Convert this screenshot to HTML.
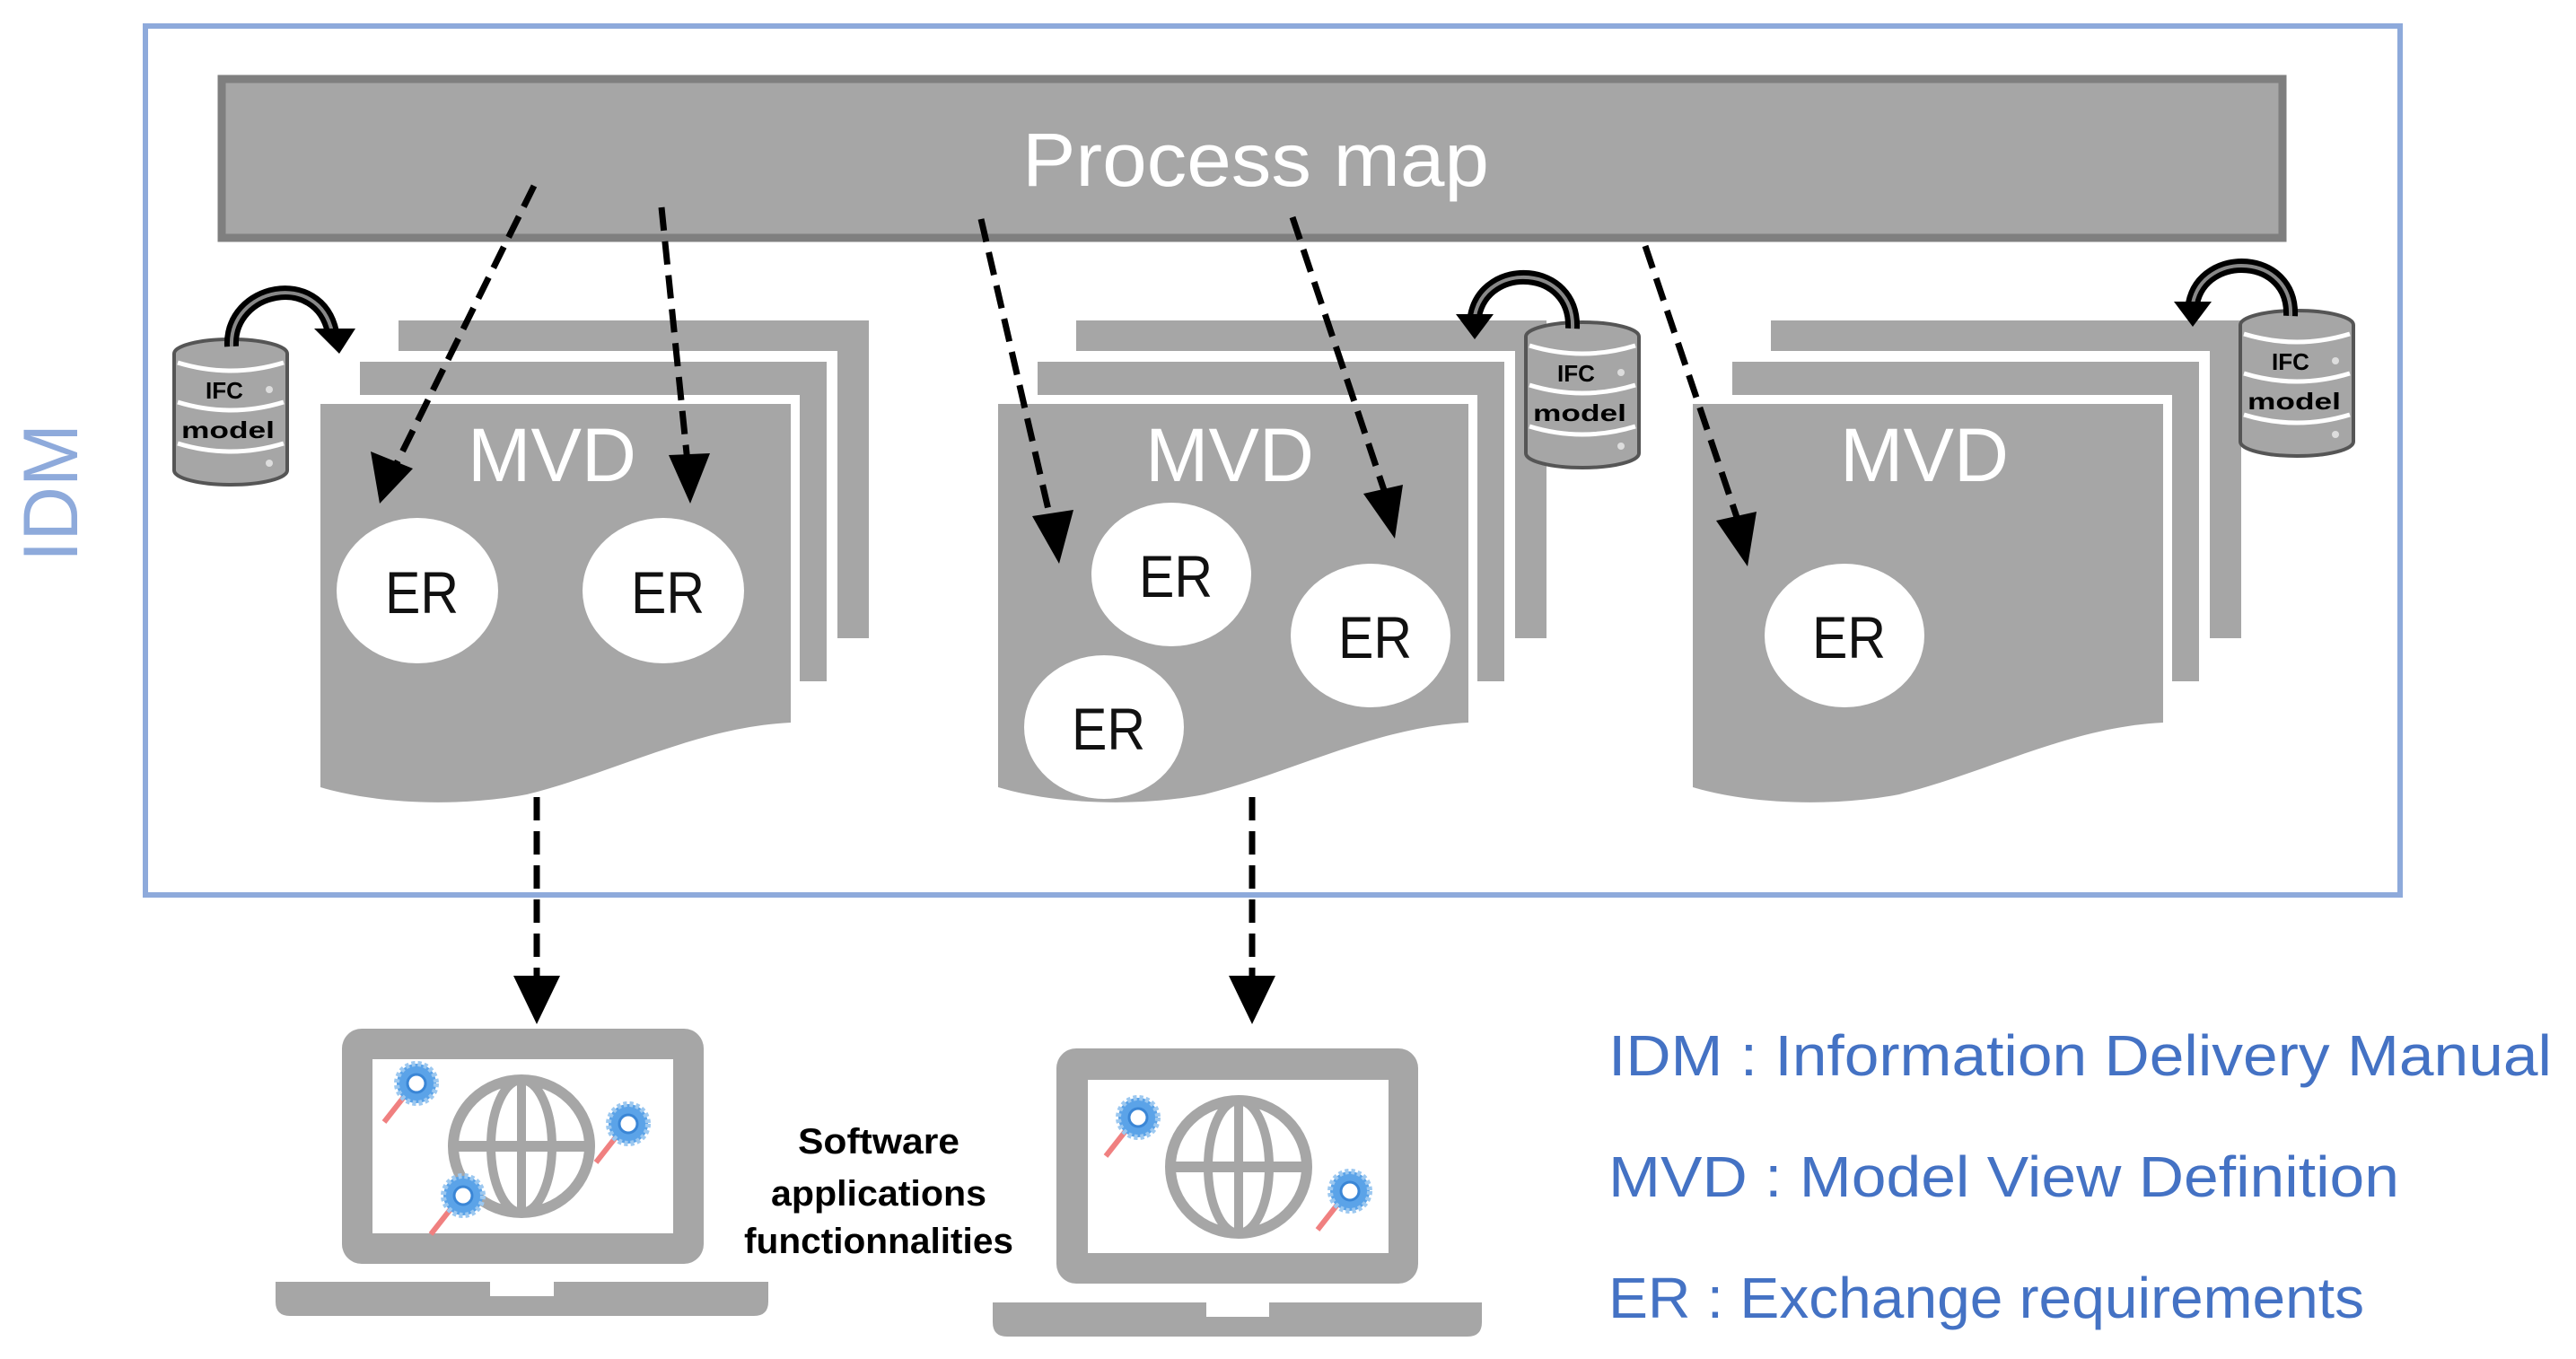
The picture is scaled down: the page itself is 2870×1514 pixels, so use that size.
<!DOCTYPE html>
<html><head><meta charset="utf-8"><style>html,body{margin:0;padding:0;background:#fff}svg{display:block}</style></head>
<body>
<svg width="2870" height="1514" viewBox="0 0 2870 1514" xmlns="http://www.w3.org/2000/svg" font-family="'Liberation Sans', sans-serif">
<rect x="0" y="0" width="2870" height="1514" fill="#fff"/>
<!-- outer IDM box -->
<rect x="162" y="29" width="2512" height="968" fill="none" stroke="#8eaadb" stroke-width="6"/>
<text transform="translate(86,549) rotate(-90)" text-anchor="middle" font-size="86" fill="#8eaadb" textLength="154" lengthAdjust="spacingAndGlyphs">IDM</text>
<!-- process map -->
<rect x="247" y="88" width="2296" height="177" fill="#a6a6a6" stroke="#7f7f7f" stroke-width="9"/>
<text x="1399" y="207" text-anchor="middle" font-size="84" fill="#fff" textLength="520" lengthAdjust="spacingAndGlyphs">Process map</text>

<!-- MVD groups -->
<g id="g1">
<rect x="444" y="357" width="524" height="354" fill="#a6a6a6"/>
<rect x="401" y="403" width="520" height="356" fill="#a6a6a6" stroke="#fff" stroke-width="24"/>
<rect x="401" y="403" width="520" height="356" fill="#a6a6a6"/>
<path d="M357 450 H881 V805 C777 810 687 860 587 885 C507 900 417 895 357 877 Z" fill="#a6a6a6" stroke="#fff" stroke-width="20"/>
<path d="M357 450 H881 V805 C777 810 687 860 587 885 C507 900 417 895 357 877 Z" fill="#a6a6a6"/>
<text x="615" y="536" text-anchor="middle" font-size="84" fill="#fff" textLength="188" lengthAdjust="spacingAndGlyphs">MVD</text>
</g>
<g>
<rect x="1199" y="357" width="524" height="354" fill="#a6a6a6"/>
<rect x="1156" y="403" width="520" height="356" fill="#a6a6a6" stroke="#fff" stroke-width="24"/>
<rect x="1156" y="403" width="520" height="356" fill="#a6a6a6"/>
<path d="M1112 450 H1636 V805 C1532 810 1442 860 1342 885 C1262 900 1172 895 1112 877 Z" fill="#a6a6a6" stroke="#fff" stroke-width="20"/>
<path d="M1112 450 H1636 V805 C1532 810 1442 860 1342 885 C1262 900 1172 895 1112 877 Z" fill="#a6a6a6"/>
<text x="1370" y="536" text-anchor="middle" font-size="84" fill="#fff" textLength="188" lengthAdjust="spacingAndGlyphs">MVD</text>
</g>
<g>
<rect x="1973" y="357" width="524" height="354" fill="#a6a6a6"/>
<rect x="1930" y="403" width="520" height="356" fill="#a6a6a6" stroke="#fff" stroke-width="24"/>
<rect x="1930" y="403" width="520" height="356" fill="#a6a6a6"/>
<path d="M1886 450 H2410 V805 C2306 810 2216 860 2116 885 C2036 900 1946 895 1886 877 Z" fill="#a6a6a6" stroke="#fff" stroke-width="20"/>
<path d="M1886 450 H2410 V805 C2306 810 2216 860 2116 885 C2036 900 1946 895 1886 877 Z" fill="#a6a6a6"/>
<text x="2144" y="536" text-anchor="middle" font-size="84" fill="#fff" textLength="188" lengthAdjust="spacingAndGlyphs">MVD</text>
</g>

<!-- ER ellipses -->
<g fill="#fff">
<ellipse cx="465" cy="658" rx="90" ry="81"/>
<ellipse cx="739" cy="658" rx="90" ry="81"/>
<ellipse cx="1305" cy="640" rx="89" ry="80"/>
<ellipse cx="1230" cy="810" rx="89" ry="80"/>
<ellipse cx="1527" cy="708" rx="89" ry="80"/>
<ellipse cx="2055" cy="708" rx="89" ry="80"/>
</g>
<g font-size="66" fill="#111" text-anchor="middle">
<text x="470" y="683" textLength="82" lengthAdjust="spacingAndGlyphs">ER</text>
<text x="744" y="683" textLength="82" lengthAdjust="spacingAndGlyphs">ER</text>
<text x="1310" y="665" textLength="82" lengthAdjust="spacingAndGlyphs">ER</text>
<text x="1235" y="835" textLength="82" lengthAdjust="spacingAndGlyphs">ER</text>
<text x="1532" y="733" textLength="82" lengthAdjust="spacingAndGlyphs">ER</text>
<text x="2060" y="733" textLength="82" lengthAdjust="spacingAndGlyphs">ER</text>
</g>

<!-- IFC cylinders -->
<g transform="translate(192,376)">
<path d="M2 18 A63 16 0 0 1 128 18 V148 A63 16 0 0 1 2 148 Z" fill="#a6a6a6" stroke="#555" stroke-width="4"/>
<path d="M6 28 Q65 46 124 28" fill="none" stroke="#fff" stroke-width="5"/>
<path d="M6 72 Q65 90 124 72" fill="none" stroke="#fff" stroke-width="5"/>
<path d="M6 118 Q65 136 124 118" fill="none" stroke="#fff" stroke-width="5"/>
<text x="58" y="68" text-anchor="middle" font-size="26" font-weight="bold" fill="#000">IFC</text>
<text x="62" y="112" text-anchor="middle" font-size="26" font-weight="bold" fill="#000" textLength="104" lengthAdjust="spacingAndGlyphs">model</text>
<circle cx="108" cy="58" r="4" fill="#ddd"/><circle cx="108" cy="140" r="4" fill="#ddd"/>
</g>
<g transform="translate(1698,357)">
<path d="M2 18 A63 16 0 0 1 128 18 V148 A63 16 0 0 1 2 148 Z" fill="#a6a6a6" stroke="#555" stroke-width="4"/>
<path d="M6 28 Q65 46 124 28" fill="none" stroke="#fff" stroke-width="5"/>
<path d="M6 72 Q65 90 124 72" fill="none" stroke="#fff" stroke-width="5"/>
<path d="M6 118 Q65 136 124 118" fill="none" stroke="#fff" stroke-width="5"/>
<text x="58" y="68" text-anchor="middle" font-size="26" font-weight="bold" fill="#000">IFC</text>
<text x="62" y="112" text-anchor="middle" font-size="26" font-weight="bold" fill="#000" textLength="104" lengthAdjust="spacingAndGlyphs">model</text>
<circle cx="108" cy="58" r="4" fill="#ddd"/><circle cx="108" cy="140" r="4" fill="#ddd"/>
</g>
<g transform="translate(2494,344)">
<path d="M2 18 A63 16 0 0 1 128 18 V148 A63 16 0 0 1 2 148 Z" fill="#a6a6a6" stroke="#555" stroke-width="4"/>
<path d="M6 28 Q65 46 124 28" fill="none" stroke="#fff" stroke-width="5"/>
<path d="M6 72 Q65 90 124 72" fill="none" stroke="#fff" stroke-width="5"/>
<path d="M6 118 Q65 136 124 118" fill="none" stroke="#fff" stroke-width="5"/>
<text x="58" y="68" text-anchor="middle" font-size="26" font-weight="bold" fill="#000">IFC</text>
<text x="62" y="112" text-anchor="middle" font-size="26" font-weight="bold" fill="#000" textLength="104" lengthAdjust="spacingAndGlyphs">model</text>
<circle cx="108" cy="58" r="4" fill="#ddd"/><circle cx="108" cy="140" r="4" fill="#ddd"/>
</g>

<!-- curved arrows -->
<g fill="none" stroke="#000" stroke-width="16">
<path d="M258 386 C255 320 355 300 370 370"/>
<path d="M1752 366 C1755 295 1655 290 1643 352"/>
<path d="M2552 352 C2555 282 2455 278 2443 338"/>
</g>
<g fill="none" stroke="#888" stroke-width="4">
<path d="M258 386 C255 320 355 300 370 370"/>
<path d="M1752 366 C1755 295 1655 290 1643 352"/>
<path d="M2552 352 C2555 282 2455 278 2443 338"/>
</g>
<g fill="#000">
<polygon points="350,366 396,366 378,394"/>
<polygon points="1622,350 1664,350 1643,378"/>
<polygon points="2422,336 2464,336 2443,364"/>
</g>

<!-- dashed arrows -->
<g stroke="#000" stroke-width="7" stroke-dasharray="26,12" fill="none">
<line x1="595" y1="207" x2="440" y2="520"/>
<line x1="737" y1="231" x2="766" y2="515"/>
<line x1="1093" y1="244" x2="1172" y2="585"/>
<line x1="1440" y1="242" x2="1545" y2="555"/>
<line x1="1833" y1="274" x2="1938" y2="585"/>
<line x1="598" y1="888" x2="598" y2="1090"/>
<line x1="1395" y1="888" x2="1395" y2="1090"/>
</g>
<g fill="#000">
<polygon points="423,561 413,503 460,522"/>
<polygon points="769,561 745,507 791,505"/>
<polygon points="1180,628 1150,575 1196,568"/>
<polygon points="1554,600 1519,550 1563,540"/>
<polygon points="1947,631 1912,580 1957,570"/>
<polygon points="572,1087 624,1087 598,1141"/>
<polygon points="1369,1087 1421,1087 1395,1141"/>
</g>

<!-- laptops -->
<g>
<rect x="381" y="1146" width="403" height="262" rx="22" fill="#a6a6a6"/>
<rect x="415" y="1180" width="335" height="194" fill="#fff"/>
<path d="M307 1428 H546 V1444 H617 V1428 H856 V1450 Q856 1466 840 1466 H323 Q307 1466 307 1450 Z" fill="#a6a6a6"/>
<ellipse cx="581" cy="1277" rx="76" ry="74" fill="none" stroke="#a6a6a6" stroke-width="12"/>
<ellipse cx="581" cy="1277" rx="34" ry="74" fill="none" stroke="#a6a6a6" stroke-width="10"/>
<line x1="581" y1="1203" x2="581" y2="1351" stroke="#a6a6a6" stroke-width="10"/>
<line x1="505" y1="1277" x2="657" y2="1277" stroke="#a6a6a6" stroke-width="12"
/>
<rect x="1177" y="1168" width="403" height="262" rx="22" fill="#a6a6a6"/>
<rect x="1212" y="1203" width="335" height="193" fill="#fff"/>
<path d="M1106 1451 H1344 V1467 H1414 V1451 H1651 V1473 Q1651 1489 1635 1489 H1122 Q1106 1489 1106 1473 Z" fill="#a6a6a6"/>
<ellipse cx="1380" cy="1300" rx="76" ry="74" fill="none" stroke="#a6a6a6" stroke-width="12"/>
<ellipse cx="1380" cy="1300" rx="34" ry="74" fill="none" stroke="#a6a6a6" stroke-width="10"/>
<line x1="1380" y1="1226" x2="1380" y2="1374" stroke="#a6a6a6" stroke-width="10"/>
<line x1="1304" y1="1300" x2="1456" y2="1300" stroke="#a6a6a6" stroke-width="12"/>
</g>
<!-- gear icons -->
<g>
<line x1="428" y1="1250" x2="450" y2="1222" stroke="#f08080" stroke-width="6"/>
<circle cx="464" cy="1207" r="22" fill="#5ba3e8" stroke="#9cc8f0" stroke-width="6" stroke-dasharray="4,3"/><circle cx="464" cy="1207" r="10" fill="#fff" stroke="#3a86d6" stroke-width="3"/>
<line x1="664" y1="1295" x2="686" y2="1267" stroke="#f08080" stroke-width="6"/>
<circle cx="700" cy="1252" r="22" fill="#5ba3e8" stroke="#9cc8f0" stroke-width="6" stroke-dasharray="4,3"/><circle cx="700" cy="1252" r="10" fill="#fff" stroke="#3a86d6" stroke-width="3"/>
<line x1="480" y1="1375" x2="502" y2="1347" stroke="#f08080" stroke-width="6"/>
<circle cx="516" cy="1332" r="22" fill="#5ba3e8" stroke="#9cc8f0" stroke-width="6" stroke-dasharray="4,3"/><circle cx="516" cy="1332" r="10" fill="#fff" stroke="#3a86d6" stroke-width="3"/>
<line x1="1232" y1="1288" x2="1254" y2="1260" stroke="#f08080" stroke-width="6"/>
<circle cx="1268" cy="1245" r="22" fill="#5ba3e8" stroke="#9cc8f0" stroke-width="6" stroke-dasharray="4,3"/><circle cx="1268" cy="1245" r="10" fill="#fff" stroke="#3a86d6" stroke-width="3"/>
<line x1="1468" y1="1370" x2="1490" y2="1342" stroke="#f08080" stroke-width="6"/>
<circle cx="1504" cy="1327" r="22" fill="#5ba3e8" stroke="#9cc8f0" stroke-width="6" stroke-dasharray="4,3"/><circle cx="1504" cy="1327" r="10" fill="#fff" stroke="#3a86d6" stroke-width="3"/>
</g>
<!-- software text -->
<g font-size="40" font-weight="bold" fill="#000" text-anchor="middle">
<text x="979" y="1285" textLength="180" lengthAdjust="spacingAndGlyphs">Software</text>
<text x="979" y="1343" textLength="240" lengthAdjust="spacingAndGlyphs">applications</text>
<text x="979" y="1396" textLength="300" lengthAdjust="spacingAndGlyphs">functionnalities</text>
</g>
<!-- legend -->
<g font-size="64" fill="#4472c4">
<text x="1792" y="1198" textLength="1051" lengthAdjust="spacingAndGlyphs">IDM : Information Delivery Manual</text>
<text x="1792" y="1333" textLength="881" lengthAdjust="spacingAndGlyphs">MVD : Model View Definition</text>
<text x="1792" y="1468" textLength="842" lengthAdjust="spacingAndGlyphs">ER : Exchange requirements</text>
</g>
</svg>
</body></html>
